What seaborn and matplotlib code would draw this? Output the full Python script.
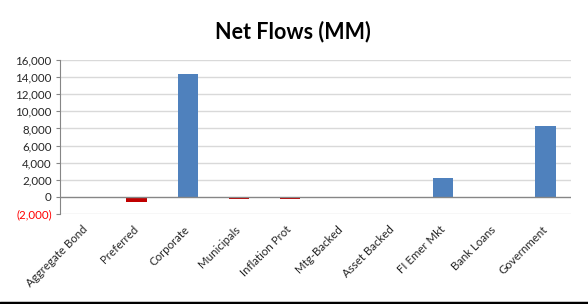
import matplotlib
matplotlib.use("Agg")
import matplotlib.pyplot as plt
import matplotlib.lines as mlines
from matplotlib.ticker import FuncFormatter
import seaborn as sns
import pandas as pd

categories = ["Aggregate Bond", "Preferred", "Corporate", "Municipals", "Inflation Prot",
              "Mtg-Backed", "Asset Backed", "FI Emer Mkt", "Bank Loans", "Government"]
net_flows = [-20, -550, 14350, -280, -280, 0, 0, 2200, -30, 8300]
y_ticks = [-2000, 0, 2000, 4000, 6000, 8000, 10000, 12000, 14000, 16000]
title = "Net Flows (MM)"

sns.set_theme(style="white")
plt.rcParams["font.family"] = ["Lato", "DejaVu Sans"]

df = pd.DataFrame({"category": categories, "value": net_flows})
df["sign"] = ["pos" if v >= 0 else "neg" for v in net_flows]

fig = plt.figure(figsize=(5.88, 3.04), dpi=100)
ax = fig.add_axes([60 / 588, 1 - 214 / 304, 511 / 588, 154 / 304])

sns.barplot(data=df, x="category", y="value", hue="sign",
            palette={"pos": "#4F81BD", "neg": "#C00000"},
            width=0.4, dodge=False, legend=False, ax=ax, saturation=1,
            edgecolor="none")

ax.set_ylim(-2000, 16000)
ax.set_xlim(-0.5, len(categories) - 0.5)
ax.set_yticks(y_ticks)
ax.yaxis.set_major_formatter(FuncFormatter(
    lambda v, p: "0" if v == 0 else (f"({abs(int(v)):,})" if v < 0 else f"{int(v):,}")))
for lbl, v in zip(ax.get_yticklabels(), y_ticks):
    lbl.set_color("#FF0000" if v < 0 else "#262626")
ax.tick_params(axis="y", labelsize=8.3, length=3, width=0.8, color="#868686", pad=3, left=True)
ax.tick_params(axis="x", length=0, labelsize=8.3, labelcolor="#262626")

for v in y_ticks:
    if v != 0:
        ax.axhline(v, color="#D9D9D9", lw=1, zorder=0)
ax.axhline(0, color="#868686", lw=1, zorder=3)

for s in ["top", "right", "bottom"]:
    ax.spines[s].set_visible(False)
ax.spines["left"].set_color("#868686")
ax.spines["left"].set_linewidth(0.8)

ax.set_xlabel("")
ax.set_ylabel("")
ax.set_xticks(range(len(categories)))
ax.set_xticklabels(categories, rotation=45, ha="right", va="center", rotation_mode="anchor")
ax.tick_params(axis="x", pad=10)

fig.text(293 / 588, 1 - 32 / 304, title, ha="center", va="center",
         fontsize=15.5, fontweight="bold", color="#000000")

fig.add_artist(mlines.Line2D([0, 1], [1.5 / 304, 1.5 / 304], color="black", lw=2.5,
                             transform=fig.transFigure))

fig.savefig("out.png", dpi=100, facecolor="white")
